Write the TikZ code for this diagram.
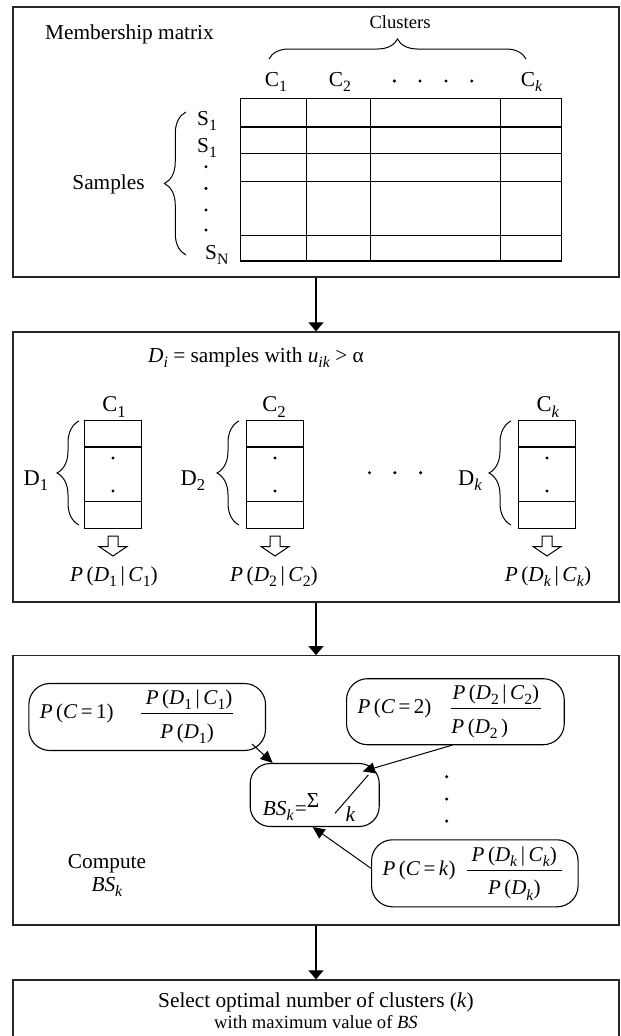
\documentclass[tikz,border=0pt]{standalone}
\usepackage{fontspec}
\setmainfont{Liberation Serif}
\usepackage{amsmath}
\usetikzlibrary{arrows.meta,decorations.pathreplacing,calc}
\makeatletter
\newcommand{\lo}[1]{\raisebox{-0.24em}{\fontsize{\dimexpr 0.74\dimexpr\f@size pt\relax\relax}{10pt}\selectfont #1}}
\newcommand{\il}[1]{\lo{\textit{#1}}}
\makeatother
\newcommand{\fr}[2]{\ensuremath{\dfrac{\text{#1}\rule[-6bp]{0pt}{6bp}}{\rule{0pt}{22bp}\text{#2}}}}
\begin{document}
\begin{tikzpicture}[x=1bp,y=-1bp,
  box/.style={draw=black!85, line width=1.3bp, minimum width=606bp, inner sep=0pt},
  tx/.style={inner sep=0pt, font=\fontsize{21.3bp}{24bp}\selectfont},
  txs/.style={inner sep=0pt, font=\fontsize{18.6bp}{22bp}\selectfont},
  txb/.style={inner sep=0pt, font=\fontsize{22.5bp}{26bp}\selectfont},
  flow/.style={-{Triangle[width=15bp,length=9bp]}, line width=1.1bp},
  inarr/.style={-{Triangle[width=11bp,length=12bp]}, line width=1bp},
  brc/.style={decorate, decoration={brace, amplitude=#1}, line width=1bp},
  grd/.style={line width=1.2bp},
  pill/.style={draw, line width=1.1bp, rounded corners=21bp, inner ysep=0pt, inner xsep=11bp,
    font=\fontsize{21bp}{24bp}\selectfont, anchor=west},
  hol/.style={line width=1bp}
]
\useasboundingbox (0,0) rectangle (621,1036);

% ---------- boxes ----------
\node[box, minimum height=270bp] (b1) at (316,142) {};
\node[box, minimum height=270bp] (b2) at (316,467) {};
\node[box, minimum height=269.3bp] (b3) at (316,790.4) {};
\node[box, minimum height=60bp] (b4) at (316,1010) {};
\draw[flow] (b1.south) -- (b2.north);
\draw[flow] (b2.south) -- (b3.north);
\draw[flow] (b3.south) -- (b4.north);

% ---------- box 1: membership matrix ----------
\node[tx, anchor=base west] (mm) at (45,39) {Membership matrix};
\node[txs, anchor=base] (cl) at (400,28) {Clusters};
\draw[brc=20bp] (269,59) -- (526,59);
\node[tx, anchor=base] (c1) at (276,86) {C\lo{1}};
\node[tx, anchor=base] (c2) at (340,86) {C\lo{2}};
\node[tx, anchor=base] (ck) at (531.7,86) {C\il{k}};
\foreach \x in {394.3,420,446,471.7} \fill (\x,81) circle (1.7);
\draw[grd] (240.4,98.7) rectangle (561.6,261);
\foreach \x in {306.1,370.7,500.2} \draw[grd] (\x,98.7) -- (\x,261);
\foreach \y in {127,153.7,181.7,235.7} \draw[grd] (240.4,\y) -- (561.6,\y);
\node[tx, anchor=base west] (s1) at (197,125) {S\lo{1}};
\node[tx, anchor=base west] (s2) at (197,152.5) {S\lo{1}};
\node[tx, anchor=base west] (sn) at (205,259) {S\lo{N}};
\foreach \y in {166.7,188.3,210,230} \fill (206,\y) circle (1.7);
\draw[brc=21.5bp] (186,255) -- (186,112);
\node[tx, anchor=base] (smp) at (108.5,189) {Samples};

% ---------- box 2 ----------
\node[tx, anchor=base west] (di) at (148,362) {\textit{D}\il{i} = samples with \textit{u}\il{ik} > α};
\foreach \cx in {113,275,547}{
  \draw[grd] (\cx-28.7,420.7) rectangle (\cx+28.7,528.7);
  \draw[grd] (\cx-28.7,447) -- (\cx+28.7,447);
  \draw[grd] (\cx-28.7,501.5) -- (\cx+28.7,501.5);
  \fill (\cx,458) circle (1.7);
  \fill (\cx,491) circle (1.7);
  \draw[hol] (\cx-5,536) -- (\cx-5,546.5) -- (\cx-14,546.5) -- (\cx,556) -- (\cx+14,546.5) -- (\cx+5,546.5) -- (\cx+5,536) -- cycle;
}
\node[txb, anchor=base] (cc1) at (114,411.7) {C\lo{1}};
\node[txb, anchor=base] (cc2) at (274,411.7) {C\lo{2}};
\node[txb, anchor=base] (cck) at (548,411.7) {C\il{k}};
\node[txb, anchor=base] (d1) at (36,485) {D\lo{1}};
\node[txb, anchor=base] (d2) at (193,485) {D\lo{2}};
\node[txb, anchor=base] (dk) at (470,485) {D\il{k}};
\draw[brc=22bp] (79,525) -- (79,421);
\draw[brc=22bp] (239,525) -- (239,421);
\draw[brc=22bp] (511,525) -- (511,421);
\foreach \x in {369.5,394.9,420.6} \fill (\x,472.7) circle (1.7);
\node[tx, anchor=base] (p1) at (114,581.7) {\textit{P}\,(\textit{D}\lo{1}\,|\,\textit{C}\lo{1})};
\node[tx, anchor=base] (p2) at (274,581.7) {\textit{P}\,(\textit{D}\lo{2}\,|\,\textit{C}\lo{2})};
\node[tx, anchor=base] (pk) at (548,581.7) {\textit{P}\,(\textit{D}\il{k}\,|\,\textit{C}\il{k})};

% ---------- box 3 ----------
\node[pill, minimum height=67bp] (n1) at (28.3,717)
  {\textit{P}\,(\textit{C}\,=\,1)\kern26bp\fr{\kern5bp\textit{P}\,(\textit{D}\lo{1}\,|\,\textit{C}\lo{1})\kern1bp}{\textit{P}\,(\textit{D}\lo{1})}\kern20bp};
\node[pill, minimum height=66bp] (n2) at (346,711.7)
  {\textit{P}\,(\textit{C}\,=\,2)\kern18bp\fr{\kern2bp\textit{P}\,(\textit{D}\lo{2}\,|\,\textit{C}\lo{2})\kern2bp}{\textit{P}\,(\textit{D}\lo{2}\,)\kern32bp}\kern11bp};
\node[pill, minimum height=67bp] (nk) at (371,873.3)
  {\textit{P}\,(\textit{C}\,=\,\textit{k})\kern10bp\fr{\kern5bp\textit{P}\,(\textit{D}\il{k}\,|\,\textit{C}\il{k})\kern5bp}{\textit{P}\,(\textit{D}\il{k})}\kern4bp};
\node[draw, line width=1.1bp, rounded corners=20bp, minimum width=129bp, minimum height=63bp] (bs) at (314.7,795) {};
\node[tx, anchor=base west] (bst) at (262.7,815) {\textit{BS}\il{k}\kern1bp=\raisebox{8bp}{Σ}};
\node[tx, anchor=base] (bsk) at (350.5,821.7) {\textit{k}};
\draw[line width=1bp] (335,813.3) -- (368.3,775);
\foreach \y in {776.7,799,821} \fill (446.7,\y) circle (1.7);
\node[tx, anchor=base] (cmp) at (107,868.3) {Compute};
\node[tx, anchor=base] (cmpb) at (107,891.7) {\textit{BS}\il{k}};
\draw[inarr] ([shift={(-14,-7)}]n1.south east) -- ([shift={(23,0)}]bs.north west);
\draw[inarr] ([shift={(-3.5,0)}]n2.south) -- ([shift={(-17,8.4)}]bs.north east);
\draw[inarr] ([shift={(0,-5)}]nk.west) -- ([shift={(-2,0)}]bs.south);

% ---------- box 4 ----------
\node[tx, anchor=base] (sel) at (316,1007) {Select optimal number of clusters (\textit{k})};
\node[txs, anchor=base] (wmx) at (316,1028) {with maximum value of \textit{BS}};
\end{tikzpicture}
\end{document}
